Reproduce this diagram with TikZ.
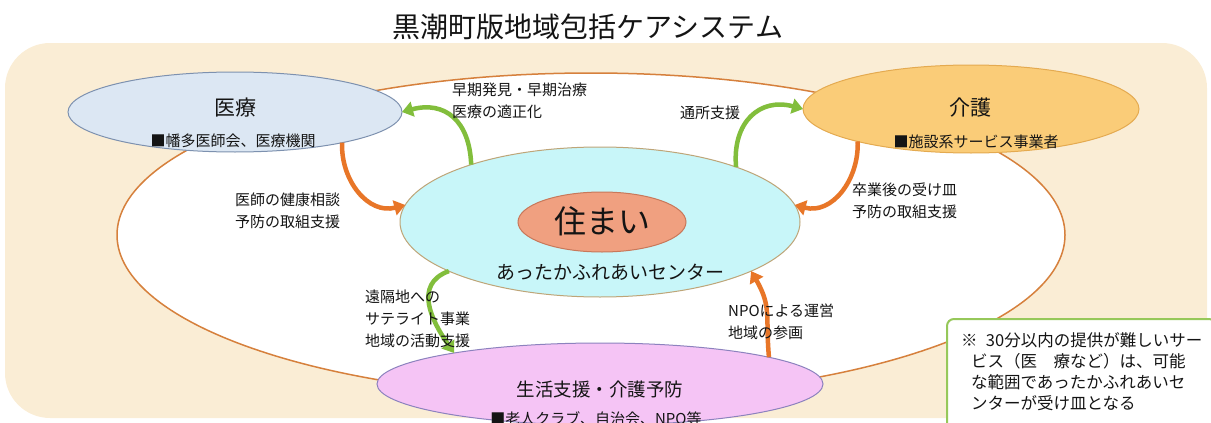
\documentclass[tikz,border=0pt]{standalone}
\usepackage{fontspec}
\setmainfont{Noto Sans CJK JP}
\usetikzlibrary{shapes.geometric,arrows.meta}
\definecolor{bgc}{RGB}{250,237,213}
\definecolor{ringc}{RGB}{214,128,60}
\definecolor{iryofill}{RGB}{220,231,243}
\definecolor{iryodraw}{RGB}{125,145,175}
\definecolor{kaigofill}{RGB}{250,204,120}
\definecolor{kaigodraw}{RGB}{228,170,80}
\definecolor{ctrfill}{RGB}{200,246,249}
\definecolor{ctrdraw}{RGB}{190,165,120}
\definecolor{homefill}{RGB}{240,160,128}
\definecolor{homedraw}{RGB}{200,120,90}
\definecolor{lifefill}{RGB}{245,196,245}
\definecolor{lifedraw}{RGB}{140,130,190}
\definecolor{garrowc}{RGB}{130,190,60}
\definecolor{oarrowc}{RGB}{232,118,40}
\definecolor{notec}{RGB}{150,200,90}
\definecolor{txt}{RGB}{20,20,20}
\tikzset{
  oval/.style={ellipse, inner sep=0pt, outer sep=0pt, line width=1pt},
  garrow/.style={draw=garrowc, line width=4.5pt, -{Triangle[width=15pt,length=11pt]}},
  oarrow/.style={draw=oarrowc, line width=4.5pt, -{Triangle[width=15pt,length=11pt]}},
  lbl/.style={text=txt, inner sep=0pt, align=left, font=\fontsize{15}{22}\selectfont},
}
\begin{document}
\begin{tikzpicture}[x=1pt,y=-1pt]
\useasboundingbox (0,0) rectangle (1211,423);
% title
\node[text=txt, font=\fontsize{28}{32}\selectfont] (title) at (588,27) {黒潮町版地域包括ケアシステム};
% background
\fill[bgc, rounded corners=45pt] (5,43) rectangle (1207,418);
% big ring
\node[oval, draw=ringc, fill=white, line width=1.5pt, minimum width=948pt, minimum height=324pt] (ring) at (591,235) {};
% outer ellipses
\node[oval, draw=iryodraw, fill=iryofill, minimum width=334pt, minimum height=80pt] (iryo) at (235,112) {};
\node[oval, draw=kaigodraw, fill=kaigofill, minimum width=336pt, minimum height=88pt] (kaigo) at (971,109) {};
\node[oval, draw=ctrdraw, fill=ctrfill, minimum width=400pt, minimum height=150pt] (ctr) at (600,222) {};
\node[oval, draw=homedraw, fill=homefill, minimum width=168pt, minimum height=60pt] (home) at (602,222) {};
\node[oval, draw=lifedraw, fill=lifefill, minimum width=446pt, minimum height=82pt] (life) at (600,384) {};
% ellipse texts
\node[text=txt, font=\fontsize{21}{24}\selectfont] (iryoT) at (235,108) {医療};
\node[text=txt, font=\fontsize{15}{18}\selectfont] (iryoS) at (233,141) {■幡多医師会、医療機関};
\node[text=txt, font=\fontsize{21}{24}\selectfont] (kaigoT) at (970,108) {介護};
\node[text=txt, font=\fontsize{15}{18}\selectfont] (kaigoS) at (976,142) {■施設系サービス事業者};
\node[text=txt, font=\fontsize{32}{36}\selectfont] (homeT) at (602,221) {住まい};
\node[text=txt, font=\fontsize{19}{22}\selectfont] (ctrT) at (610,272) {あったかふれあいセンター};
\node[text=txt, font=\fontsize{18.5}{22}\selectfont] (lifeT) at (600,389) {生活支援・介護予防};
\node[text=txt, font=\fontsize{15}{18}\selectfont] (lifeS) at (596,419) {■老人クラブ、自治会、NPO等};
% arrows
\draw[garrow] (ctr.156) to[out=92,in=15,looseness=1.3] (iryo.east);
\draw[garrow] (ctr.22) to[out=95,in=165,looseness=1.3] (kaigo.west);
\draw[oarrow] (iryo.-16) to[out=-92,in=195,looseness=1.1] (ctr.175);
\draw[oarrow] (kaigo.196) to[out=-88,in=-15,looseness=1.1] (ctr.5);
\draw[garrow] (ctr.198) to[out=200,in=125,looseness=1.2] (life.168);
\draw[oarrow] (life.9) to[out=95,in=-60,looseness=1.2] (ctr.-18);
% arrow labels
\node[lbl, anchor=west] (l1) at (452,101) {早期発見・早期治療\\医療の適正化};
\node[lbl, anchor=west] (l2) at (680,113) {通所支援};
\node[lbl, anchor=west] (l3) at (235,211) {医師の健康相談\\予防の取組支援};
\node[lbl, anchor=west] (l4) at (852,201) {卒業後の受け皿\\予防の取組支援};
\node[lbl, anchor=west] (l5) at (365,319) {遠隔地への\\サテライト事業\\地域の活動支援};
\node[lbl, anchor=west] (l6) at (728,322) {NPOによる運営\\地域の参画};
% note
\draw[draw=notec, fill=white, line width=2pt, rounded corners=7pt] (947,319) rectangle (1216,432);
\node[text=txt, inner sep=0pt, align=left, anchor=north west, font=\fontsize{16.5}{21}\selectfont] (note) at (961,332)
 {※\hspace{0.5em}30分以内の提供が難しいサー\\\hspace*{0.6em}ビス（医　療など）は、可能\\\hspace*{0.6em}な範囲であったかふれあいセ\\\hspace*{0.6em}ンターが受け皿となる};
\end{tikzpicture}
\end{document}
